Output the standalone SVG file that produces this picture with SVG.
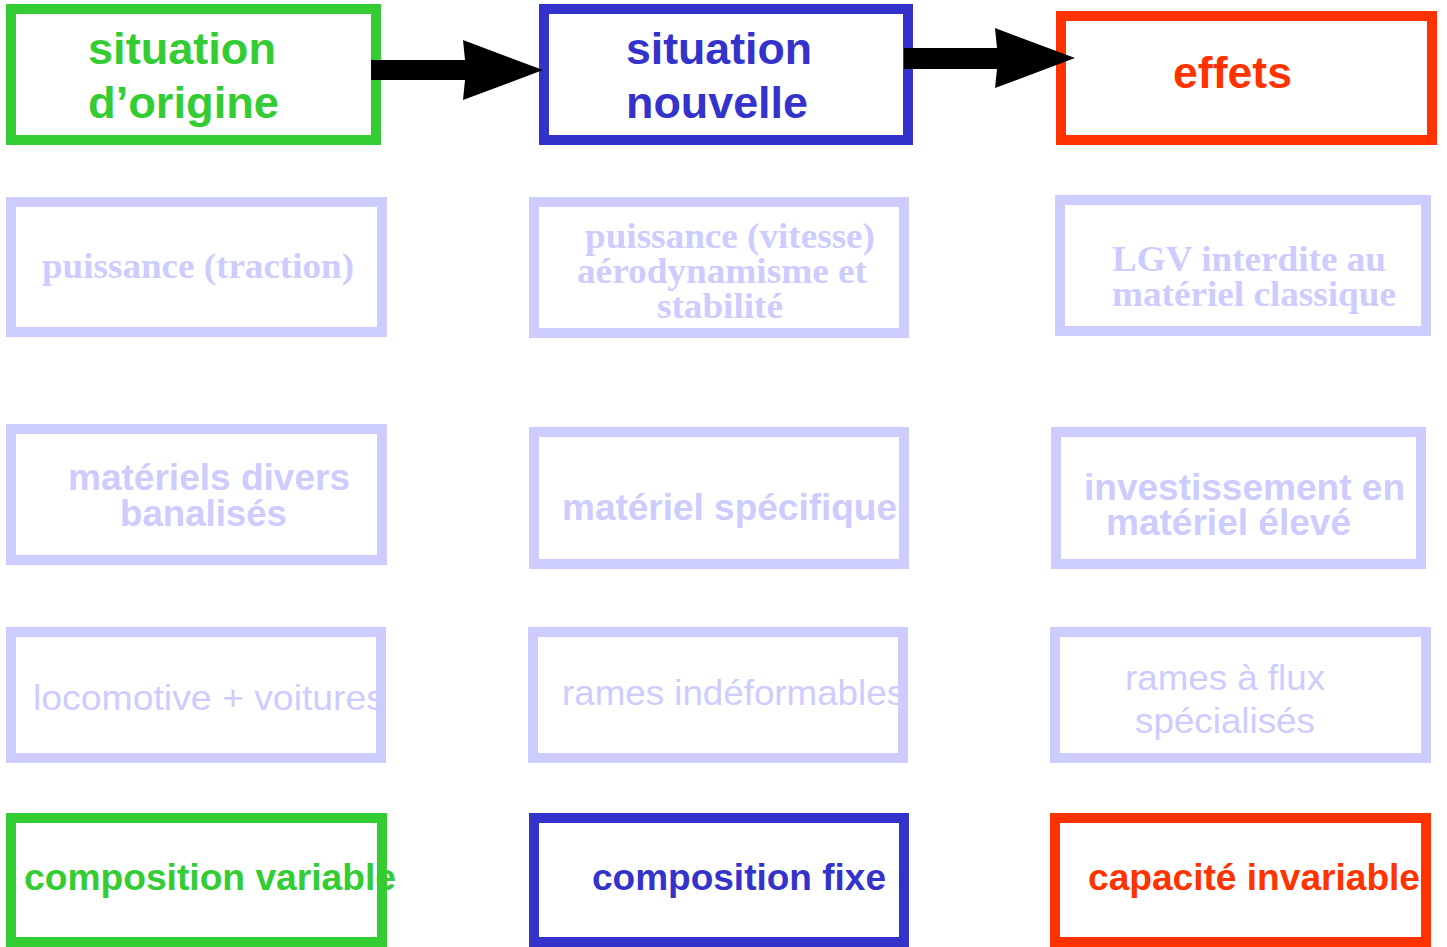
<svg xmlns="http://www.w3.org/2000/svg" width="1447" height="947" viewBox="0 0 1447 947">
<style>
.box{fill:none;stroke-width:10}
.g{stroke:#33cc33}.b{stroke:#3333cc}.r{stroke:#ff3300}.l{stroke:#ccccff}
.tg{fill:#33cc33}.tb{fill:#3333cc}.tr{fill:#ff3300}.tl{fill:#ccccff}
.sb{font-family:"Liberation Sans",Arial,sans-serif;font-weight:bold}
.sr{font-family:"Liberation Sans",Arial,sans-serif}
.fb{font-family:"Liberation Serif","Times New Roman",serif;font-weight:bold}
.arrow{fill:#000}
</style>
<rect width="1447" height="947" fill="#fff"/>
<g id="n1"><text class="sb tg" font-size="44" x="88" y="64" textLength="188" lengthAdjust="spacingAndGlyphs">situation</text><text class="sb tg" font-size="44" x="88" y="118" textLength="191" lengthAdjust="spacingAndGlyphs">d’origine</text><rect class="box g" x="11" y="9" width="365" height="131"/></g>
<g id="n2"><text class="sb tb" font-size="44" x="626" y="64" textLength="186" lengthAdjust="spacingAndGlyphs">situation</text><text class="sb tb" font-size="44" x="626" y="118" textLength="182" lengthAdjust="spacingAndGlyphs">nouvelle</text><rect class="box b" x="544" y="9" width="364" height="131"/></g>
<g id="n3"><text class="sb tr" font-size="44" x="1173" y="88" textLength="119" lengthAdjust="spacingAndGlyphs">effets</text><rect class="box r" x="1061" y="16" width="371" height="124"/></g>
<g id="n4"><text class="fb tl" font-size="36" x="42" y="278" textLength="312" lengthAdjust="spacingAndGlyphs">puissance (traction)</text><rect class="box l" x="11" y="202" width="371" height="130"/></g>
<g id="n5"><text class="fb tl" font-size="36" x="585" y="248" textLength="290" lengthAdjust="spacingAndGlyphs">puissance (vitesse)</text><text class="fb tl" font-size="36" x="577" y="283" textLength="290" lengthAdjust="spacingAndGlyphs">aérodynamisme et</text><text class="fb tl" font-size="36" x="657" y="318" textLength="126" lengthAdjust="spacingAndGlyphs">stabilité</text><rect class="box l" x="534" y="202" width="370" height="131"/></g>
<g id="n6"><text class="fb tl" font-size="36" x="1112" y="271" textLength="274" lengthAdjust="spacingAndGlyphs">LGV interdite au</text><text class="fb tl" font-size="36" x="1112" y="306" textLength="284" lengthAdjust="spacingAndGlyphs">matériel classique</text><rect class="box l" x="1060" y="200" width="366" height="131"/></g>
<g id="n7"><text class="sb tl" font-size="36" x="68" y="490" textLength="282" lengthAdjust="spacingAndGlyphs">matériels divers</text><text class="sb tl" font-size="36" x="120" y="526" textLength="167" lengthAdjust="spacingAndGlyphs">banalisés</text><rect class="box l" x="11" y="429" width="371" height="131"/></g>
<g id="n8"><text class="sb tl" font-size="36" x="562" y="520" textLength="335" lengthAdjust="spacingAndGlyphs">matériel spécifique</text><rect class="box l" x="534" y="432" width="370" height="132"/></g>
<g id="n9"><text class="sb tl" font-size="36" x="1084" y="500" textLength="321" lengthAdjust="spacingAndGlyphs">investissement en</text><text class="sb tl" font-size="36" x="1106" y="535" textLength="245" lengthAdjust="spacingAndGlyphs">matériel élevé</text><rect class="box l" x="1056" y="432" width="365" height="132"/></g>
<g id="n10"><text class="sr tl" font-size="35" x="33" y="710" textLength="352" lengthAdjust="spacingAndGlyphs">locomotive + voitures</text><rect class="box l" x="11" y="632" width="370" height="126"/></g>
<g id="n11"><text class="sr tl" font-size="35" x="562" y="705" textLength="343" lengthAdjust="spacingAndGlyphs">rames indéformables</text><rect class="box l" x="533" y="632" width="370" height="126"/></g>
<g id="n12"><text class="sr tl" font-size="35" x="1125" y="690" textLength="200" lengthAdjust="spacingAndGlyphs">rames à flux</text><text class="sr tl" font-size="35" x="1135" y="733" textLength="180" lengthAdjust="spacingAndGlyphs">spécialisés</text><rect class="box l" x="1055" y="632" width="371" height="126"/></g>
<g id="n13"><text class="sb tg" font-size="37" x="24" y="890" textLength="372" lengthAdjust="spacingAndGlyphs">composition variable</text><rect class="box g" x="11" y="818" width="371" height="124"/></g>
<g id="n14"><text class="sb tb" font-size="37" x="592" y="890" textLength="294" lengthAdjust="spacingAndGlyphs">composition fixe</text><rect class="box b" x="534" y="818" width="370" height="124"/></g>
<g id="n15"><text class="sb tr" font-size="37" x="1088" y="890" textLength="332" lengthAdjust="spacingAndGlyphs">capacité invariable</text><rect class="box r" x="1055" y="818" width="371" height="124"/></g>
<g id="connectors">
<polygon class="arrow" points="371,60 465,60 463,40 543,70 463,100 465,80 371,80"/>
<polygon class="arrow" points="904,48 997,48 995,28 1075,58 995,88 997,69 904,69"/>
</g>
</svg>
